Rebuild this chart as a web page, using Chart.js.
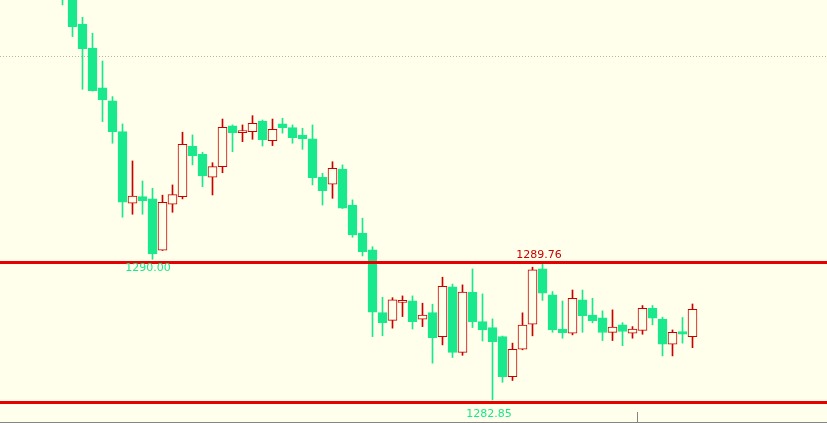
<!DOCTYPE html>
<html>
<head>
<meta charset="utf-8">
<script src="https://cdn.jsdelivr.net/npm/chart.js@4/dist/chart.umd.min.js"></script>
<style>
  html, body { margin: 0; padding: 0; background: #FFFFEB; }
  #wrap { width: 827px; height: 423px; }
</style>
</head>
<body>
<div id="wrap"><canvas id="c" width="827" height="423"></canvas></div>
<script>
// ---- data ----
const opens  = [1305.21,1303.48,1301.96,1300.74,1298.71,1298.06,1296.49,1292.85,1293.19,1293.07,
                1290.46,1292.80,1293.19,1295.76,1295.34,1294.17,1294.71,1296.79,1296.44,1296.49,
                1297.03,1296.03,1296.88,1296.69,1296.32,1296.12,1294.17,1293.82,1294.59,1292.76,
                1291.33,1290.48,1287.29,1286.90,1287.81,1287.89,1286.96,1287.29,1286.07,1288.60,
                1285.27,1288.32,1286.83,1286.53,1286.07,1284.04,1285.43,1286.70,1289.51,1288.19,
                1286.46,1286.24,1287.94,1287.17,1287.02,1286.29,1286.67,1286.24,1286.38,1287.51,
                1286.96,1285.69,1286.33,1286.07];
const highs  = [1305.47,1303.79,1302.30,1301.49,1300.08,1298.27,1296.88,1295.00,1293.98,1293.61,
                1293.26,1293.78,1296.46,1296.32,1295.44,1294.91,1297.13,1296.83,1296.83,1297.30,
                1297.08,1297.13,1297.17,1296.83,1296.66,1296.83,1294.37,1294.96,1294.80,1293.02,
                1292.09,1290.64,1288.07,1288.05,1288.14,1288.14,1287.77,1287.72,1289.09,1288.74,
                1288.70,1289.51,1288.24,1286.97,1286.10,1285.74,1287.28,1289.60,1289.76,1288.36,
                1287.88,1288.44,1288.44,1288.02,1287.38,1287.43,1286.78,1286.58,1287.65,1287.65,
                1287.06,1286.41,1287.04,1287.73];
const lows   = [1302.93,1301.32,1298.64,1298.55,1297.00,1295.90,1292.14,1292.29,1292.29,1290.00,
                1290.45,1292.39,1293.07,1294.80,1293.69,1293.27,1294.40,1295.47,1295.98,1296.10,
                1295.76,1295.78,1296.41,1295.90,1295.59,1293.78,1292.76,1293.10,1292.58,1291.12,
                1290.17,1286.07,1286.12,1286.50,1287.09,1286.46,1286.58,1284.72,1285.65,1285.01,
                1285.12,1286.53,1285.85,1282.85,1283.75,1283.84,1285.40,1286.11,1287.91,1286.29,
                1285.99,1286.16,1286.29,1286.77,1285.87,1285.87,1285.61,1285.99,1286.19,1286.67,
                1285.09,1285.09,1285.74,1285.51];
const closes = [1303.59,1301.82,1300.71,1298.57,1298.10,1296.49,1292.90,1293.22,1292.98,1290.27,
                1292.90,1293.29,1295.85,1295.27,1294.24,1294.71,1296.71,1296.44,1296.54,1296.91,
                1296.07,1296.61,1296.69,1296.18,1296.13,1294.15,1293.49,1294.63,1292.60,1291.24,
                1290.39,1287.31,1286.78,1287.94,1287.91,1286.83,1287.16,1286.02,1288.63,1285.27,
                1288.34,1286.82,1286.41,1285.82,1284.04,1285.43,1286.66,1289.46,1288.28,1286.41,
                1286.27,1288.02,1287.14,1286.88,1286.28,1286.55,1286.33,1286.45,1287.51,1287.01,
                1285.69,1286.29,1286.19,1287.46];
const levels = [1289.84, 1282.73];      // red horizontal lines
const gridLevel = 1300.31;              // dotted line
const separatorIndex = 57.5;            // small tick at the bottom
const markedLows = [9, 43];             // candles whose low is labelled
const markedHighs = [48];               // candles whose high is labelled
const priceMin = 1281.68, priceMax = 1303.18;

// ---- styles ----
const BG = '#FFFFEB';
const GREEN = '#19E98C';
const RED = '#C80000';
const LINE_RED = '#E80000';

const isUp = opens.map((o, i) => closes[i] > o);

const bodies = opens.map((o, i) => ({ x: i, y: [o, closes[i]] }));
const wicks = lows.map((l, i) => ({ x: i, y: [l, highs[i]] }));

const overlay = {
  id: 'overlay',
  beforeDatasetsDraw(chart) {
    const { ctx, scales: { y } } = chart;
    const W = chart.width;
    ctx.save();
    ctx.strokeStyle = '#B4B4A4';
    ctx.lineWidth = 1;
    ctx.setLineDash([1, 2]);
    const gy = Math.round(y.getPixelForValue(gridLevel)) + 0.5;
    ctx.beginPath();
    ctx.moveTo(0, gy);
    ctx.lineTo(W, gy);
    ctx.stroke();
    ctx.restore();
  },
  afterDatasetsDraw(chart) {
    const { ctx, scales: { x, y } } = chart;
    const W = chart.width, H = chart.height;
    ctx.save();
    ctx.fillStyle = LINE_RED;
    levels.forEach(v => {
      const py = Math.round(y.getPixelForValue(v));
      ctx.fillRect(0, py - 1, W, 3);
    });
    ctx.fillStyle = '#858585';
    ctx.fillRect(0, H - 1, W, 1);
    ctx.fillRect(Math.floor(x.getPixelForValue(separatorIndex)), H - 11, 1, 11);

    ctx.font = '11px "DejaVu Sans"';
    ctx.textAlign = 'center';
    ctx.textBaseline = 'middle';
    markedLows.forEach((i, k) => {
      ctx.fillStyle = GREEN;
      const px = x.getPixelForValue(i) - (k === 0 ? 4.5 : 3.5);
      const py = y.getPixelForValue(lows[i]) + (k === 0 ? 9 : 14);
      ctx.fillText(lows[i].toFixed(2), px, py);
    });
    markedHighs.forEach(i => {
      ctx.fillStyle = RED;
      const px = x.getPixelForValue(i) - 3.5;
      const py = y.getPixelForValue(highs[i]) - 9;
      ctx.fillText(highs[i].toFixed(2), px, py);
    });
    ctx.restore();
  }
};

new Chart(document.getElementById('c'), {
  type: 'bar',
  data: {
    datasets: [
      {
        data: bodies,
        order: 0,
        grouped: false,
        barThickness: 9,
        backgroundColor: isUp.map(u => u ? BG : GREEN),
        borderColor: isUp.map(u => u ? RED : GREEN),
        borderWidth: 1,
        borderSkipped: false
      },
      {
        data: wicks,
        order: 1,
        grouped: false,
        barThickness: 1,
        backgroundColor: isUp.map(u => u ? RED : GREEN),
        borderWidth: 0
      }
    ]
  },
  options: {
    responsive: false,
    animation: false,
    events: [],
    devicePixelRatio: 1,
    layout: { padding: 0 },
    plugins: { legend: { display: false }, tooltip: { enabled: false } },
    scales: {
      x: { type: 'linear', min: -6.25, max: 76.45, offset: false, display: false },
      y: { type: 'linear', min: priceMin, max: priceMax, display: false }
    }
  },
  plugins: [overlay]
});
</script>
</body>
</html>
